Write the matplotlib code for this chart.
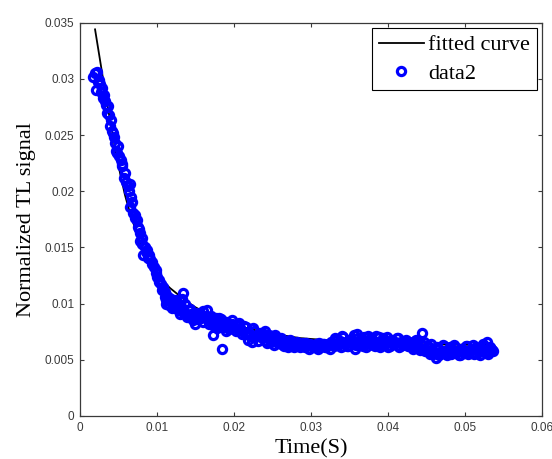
import numpy as np
import matplotlib
matplotlib.use("Agg")
import matplotlib.pyplot as plt

# fitted curve
fit_x = [0.00195, 0.0026, 0.00325, 0.0039, 0.00455, 0.0052, 0.00584, 0.00649,
         0.00714, 0.00779, 0.00844, 0.00909, 0.00974, 0.01039, 0.01104, 0.01169,
         0.01234, 0.01364, 0.01494, 0.01688, 0.01948, 0.02208, 0.02532, 0.02857,
         0.03506, 0.04156, 0.05364]
fit_y = [0.0344, 0.03165, 0.02889, 0.02631, 0.02383, 0.0216, 0.01965, 0.01805,
         0.01671, 0.01556, 0.01458, 0.01369, 0.01298, 0.01236, 0.01182, 0.01138,
         0.01102, 0.01031, 0.00969, 0.00898, 0.00827, 0.00773, 0.00729, 0.00693,
         0.00658, 0.0064, 0.00631]

# measured points (data2), decay part
data_x_head = [0.00169, 0.00195, 0.00221, 0.00208, 0.00247, 0.0026, 0.00286, 0.00299,
               0.00325, 0.00338, 0.00351, 0.00377, 0.0039, 0.00416, 0.00429, 0.00455,
               0.00468, 0.0048, 0.00506, 0.00532, 0.00545, 0.00571, 0.00597, 0.00623,
               0.00649, 0.00662, 0.00649, 0.00688, 0.00714, 0.0074, 0.00753, 0.00779,
               0.00779, 0.00805, 0.00844, 0.0087, 0.00818, 0.00883, 0.00909, 0.00935,
               0.00961, 0.00987, 0.0100, 0.01026, 0.01052, 0.01078, 0.01104, 0.0113,
               0.01156, 0.01117, 0.01182, 0.01221, 0.01247, 0.0126, 0.01286, 0.01325,
               0.01338, 0.01312, 0.01364, 0.0139, 0.01416, 0.01442, 0.01468, 0.01494,
               0.0152, 0.01545, 0.01571, 0.01597, 0.01623, 0.01649, 0.01675, 0.01701,
               0.01727, 0.0174, 0.01766, 0.01779, 0.01844, 0.01805, 0.01831, 0.0187,
               0.01896, 0.01922, 0.01948, 0.01974, 0.0200, 0.02026, 0.02052, 0.02078,
               0.02104, 0.0213, 0.02156, 0.02182, 0.02208, 0.02234, 0.0226, 0.02286,
               0.02312]
data_y_head = [0.0302, 0.0305, 0.0306, 0.0290, 0.0299, 0.0295, 0.0292, 0.0283,
               0.0280, 0.0277, 0.0270, 0.0268, 0.0258, 0.0254, 0.0252, 0.0243,
               0.0236, 0.0234, 0.0231, 0.0228, 0.0224, 0.0212, 0.0208, 0.0205,
               0.0206, 0.0195, 0.0186, 0.0181, 0.0179, 0.0174, 0.0168, 0.0163,
               0.0156, 0.0153, 0.0150, 0.0148, 0.0143, 0.0141, 0.0140, 0.0137,
               0.0133, 0.0130, 0.0124, 0.0121, 0.0117, 0.0115, 0.0110, 0.0107,
               0.0105, 0.0100, 0.0101, 0.0098, 0.0103, 0.0095, 0.0099, 0.0104,
               0.0109, 0.0093, 0.0092, 0.0088, 0.0094, 0.0091, 0.0087, 0.0082,
               0.0089, 0.0091, 0.0087, 0.0093, 0.0089, 0.0094, 0.0087, 0.0084,
               0.0072, 0.0080, 0.0085, 0.0078, 0.0060, 0.0087, 0.0084, 0.0082,
               0.0076, 0.0083, 0.0079, 0.0085, 0.0079, 0.0076, 0.0081, 0.0078,
               0.0073, 0.0080, 0.0074, 0.0068, 0.0071, 0.0066, 0.0076, 0.0071,
               0.0067]

# second batch in the decay part (the blob is dense)
data_x_head2 = [0.0023, 0.0027, 0.0031, 0.0036, 0.0040, 0.0044, 0.0049, 0.0054,
                0.0058, 0.0063, 0.0067, 0.0072, 0.0076, 0.0081, 0.0086, 0.0090,
                0.0094, 0.0098, 0.0102, 0.0107, 0.0110, 0.0112, 0.0115, 0.0118,
                0.0120, 0.0123, 0.0127, 0.0130, 0.0133, 0.0136, 0.0140, 0.0143,
                0.0147, 0.0150, 0.0153, 0.0157, 0.0160, 0.0163, 0.0167, 0.0170,
                0.0173, 0.0177, 0.0180, 0.0183, 0.0187, 0.0190, 0.0193, 0.0197,
                0.0203, 0.0207, 0.0210, 0.0215, 0.0220, 0.0225, 0.0230]
data_y_head2 = [0.0297, 0.0288, 0.0286, 0.0276, 0.0263, 0.0248, 0.0240, 0.0222,
                0.0216, 0.0200, 0.0190, 0.0176, 0.0166, 0.0158, 0.0146, 0.0143,
                0.0135, 0.0127, 0.0119, 0.0112, 0.0106, 0.0103, 0.0099, 0.0104,
                0.0096, 0.0101, 0.0097, 0.0091, 0.0096, 0.0100, 0.0090, 0.0095,
                0.0085, 0.0092, 0.0086, 0.0090, 0.0084, 0.0088, 0.0082, 0.0089,
                0.0083, 0.0087, 0.0080, 0.0086, 0.0079, 0.0084, 0.0077, 0.0082,
                0.0078, 0.0083, 0.0076, 0.0079, 0.0074, 0.0078, 0.0072]

# flat tail
data_x_tail = [0.0234, 0.0237, 0.0240, 0.0243, 0.0246, 0.0249, 0.0252, 0.0255,
               0.0258, 0.0261, 0.0264, 0.0267, 0.0270, 0.0273, 0.0276, 0.0279,
               0.0282, 0.0285, 0.0288, 0.0291, 0.0294, 0.0297, 0.0300, 0.0303,
               0.0306, 0.0309, 0.0312, 0.0315, 0.0318, 0.0321, 0.0324, 0.0327,
               0.0330, 0.0333, 0.0336, 0.0339, 0.0342, 0.0345, 0.0348, 0.0351,
               0.0354, 0.0357, 0.0360, 0.0363, 0.0366, 0.0369, 0.0372, 0.0375,
               0.0378, 0.0381, 0.0384, 0.0387, 0.0390, 0.0393, 0.0396, 0.0399,
               0.0402, 0.0405, 0.0408, 0.0411, 0.0414, 0.0417, 0.0420, 0.0423,
               0.0426, 0.0429, 0.0432, 0.0435, 0.0438, 0.0441, 0.0444, 0.0447,
               0.0450, 0.0453, 0.0456, 0.0459, 0.0462, 0.0465, 0.0468, 0.0471,
               0.0474, 0.0477, 0.0480, 0.0483, 0.0486, 0.0489, 0.0492, 0.0495,
               0.0498, 0.0501, 0.0504, 0.0507, 0.0510, 0.0513, 0.0516, 0.0519,
               0.0522, 0.0525, 0.0528, 0.0531, 0.0534, 0.0536]
data_y_tail = [0.0074, 0.0069, 0.0076, 0.0065, 0.0072, 0.0068, 0.0063, 0.0070,
               0.0066, 0.0069, 0.0063, 0.0067, 0.0061, 0.0068, 0.0064, 0.0062,
               0.0066, 0.0061, 0.0064, 0.0062, 0.0065, 0.0060, 0.0063, 0.0061,
               0.0064, 0.0060, 0.0062, 0.0064, 0.0061, 0.0063, 0.0060, 0.0065,
               0.0062, 0.0068, 0.0064, 0.0061, 0.0070, 0.0066, 0.0062, 0.0068,
               0.0064, 0.0060, 0.0073, 0.0067, 0.0063, 0.0070, 0.0061, 0.0066,
               0.0069, 0.0063, 0.0071, 0.0065, 0.0061, 0.0069, 0.0064, 0.0070,
               0.0062, 0.0067, 0.0064, 0.0069, 0.0061, 0.0066, 0.0063, 0.0068,
               0.0062, 0.0065, 0.0060, 0.0067, 0.0064, 0.0059, 0.0074, 0.0066,
               0.0061, 0.0057, 0.0064, 0.0055, 0.0052, 0.0060, 0.0056, 0.0063,
               0.0058, 0.0054, 0.0061, 0.0056, 0.0063, 0.0058, 0.0054, 0.0060,
               0.0056, 0.0062, 0.0055, 0.0059, 0.0063, 0.0056, 0.0060, 0.0054,
               0.0058, 0.0062, 0.0066, 0.0057, 0.0060, 0.0058]

# tail points in between the first batch
data_x_tail2 = [0.02355, 0.02385, 0.02415, 0.02445, 0.02475, 0.02505, 0.02535, 0.02565,
                0.02595, 0.02625, 0.02655, 0.02685, 0.02715, 0.02745, 0.02775, 0.02805,
                0.02835, 0.02865, 0.02895, 0.02925, 0.02955, 0.02985, 0.03015, 0.03045,
                0.03075, 0.03105, 0.03135, 0.03165, 0.03195, 0.03225, 0.03255, 0.03285,
                0.03315, 0.03345, 0.03375, 0.03405, 0.03435, 0.03465, 0.03495, 0.03525,
                0.03555, 0.03585, 0.03615, 0.03645, 0.03675, 0.03705, 0.03735, 0.03765,
                0.03795, 0.03825, 0.03855, 0.03885, 0.03915, 0.03945, 0.03975, 0.04005,
                0.04035, 0.04065, 0.04095, 0.04125, 0.04155, 0.04185, 0.04215, 0.04245,
                0.04275, 0.04305, 0.04335, 0.04365, 0.04395, 0.04425, 0.04455, 0.04485,
                0.04515, 0.04545, 0.04575, 0.04605, 0.04635, 0.04665, 0.04695, 0.04725,
                0.04755, 0.04785, 0.04815, 0.04845, 0.04875, 0.04905, 0.04935, 0.04965,
                0.04995, 0.05025, 0.05055, 0.05085, 0.05115, 0.05145, 0.05175, 0.05205,
                0.05235, 0.05265, 0.05295, 0.05325, 0.05355]
data_y_tail2 = [0.0070, 0.0073, 0.0067, 0.0071, 0.0066, 0.0069, 0.0072, 0.0065,
                0.0068, 0.0064, 0.0062, 0.0066, 0.0063, 0.0065, 0.0061, 0.0064,
                0.0063, 0.0062, 0.0065, 0.0061, 0.0063, 0.0064, 0.0062, 0.0061,
                0.0063, 0.0065, 0.0062, 0.0064, 0.0061, 0.0063, 0.0066, 0.0065,
                0.0069, 0.0063, 0.0067, 0.0071, 0.0064, 0.0062, 0.0068, 0.0066,
                0.0072, 0.0063, 0.0069, 0.0065, 0.0062, 0.0067, 0.0071, 0.0064,
                0.0068, 0.0062, 0.0066, 0.0070, 0.0063, 0.0067, 0.0065, 0.0061,
                0.0068, 0.0064, 0.0066, 0.0069, 0.0062, 0.0065, 0.0067, 0.0063,
                0.0066, 0.0061, 0.0064, 0.0068, 0.0062, 0.0060, 0.0063, 0.0058,
                0.0062, 0.0055, 0.0059, 0.0057, 0.0061, 0.0054, 0.0058, 0.0062,
                0.0056, 0.0060, 0.0055, 0.0059, 0.0061, 0.0057, 0.0054, 0.0060,
                0.0058, 0.0062, 0.0056, 0.0059, 0.0055, 0.0061, 0.0057, 0.0060,
                0.0064, 0.0058, 0.0055, 0.0061, 0.0059]

x_ticks = [0, 0.01, 0.02, 0.03, 0.04, 0.05, 0.06]
x_labels = ["0", "0.01", "0.02", "0.03", "0.04", "0.05", "0.06"]
y_ticks = [0, 0.005, 0.01, 0.015, 0.02, 0.025, 0.03, 0.035]
y_labels = ["0", "0.005", "0.01", "0.015", "0.02", "0.025", "0.03", "0.035"]

data_x = data_x_head + data_x_head2 + data_x_tail + data_x_tail2
data_y = data_y_head + data_y_head2 + data_y_tail + data_y_tail2

serif = "Liberation Serif"
sans = "Liberation Sans"
axis_gray = "#3a3a3a"

fig = plt.figure(figsize=(5.52, 4.59), dpi=100)
ax = fig.add_axes([0.145, 0.0937, 0.837, 0.857])

ax.plot(fit_x, fit_y, color="black", lw=1.3, label="fitted curve", zorder=2)
ax.plot(data_x, data_y, linestyle="none", marker="o", ms=5.9, mew=2.3,
        mfc="none", mec="#0000ff", label="data2", zorder=3)

ax.set_xlim(0, 0.06)
ax.set_ylim(0, 0.035)
ax.set_xticks(x_ticks)
ax.set_xticklabels(x_labels, fontfamily=sans, fontsize=8.5, color=axis_gray)
ax.set_yticks(y_ticks)
ax.set_yticklabels(y_labels, fontfamily=sans, fontsize=8.5, color=axis_gray)
ax.tick_params(direction="in", length=3, width=0.8, top=True, right=True,
               color=axis_gray, pad=4)
for sp in ax.spines.values():
    sp.set_color(axis_gray)
    sp.set_linewidth(0.9)

ax.set_xlabel("Time(S)", fontfamily=serif, fontsize=16, labelpad=4)
ax.set_ylabel("Normalized TL signal", fontfamily=serif, fontsize=16, labelpad=6)

leg = ax.legend(loc="upper right", numpoints=1, fancybox=False, framealpha=1,
                edgecolor="black", borderaxespad=0.25, handlelength=2.0,
                handletextpad=0.2, labelspacing=0.35, borderpad=0.3,
                prop={"family": serif, "size": 16})
leg.get_frame().set_linewidth(0.8)

fig.savefig("out.png", dpi=100)
